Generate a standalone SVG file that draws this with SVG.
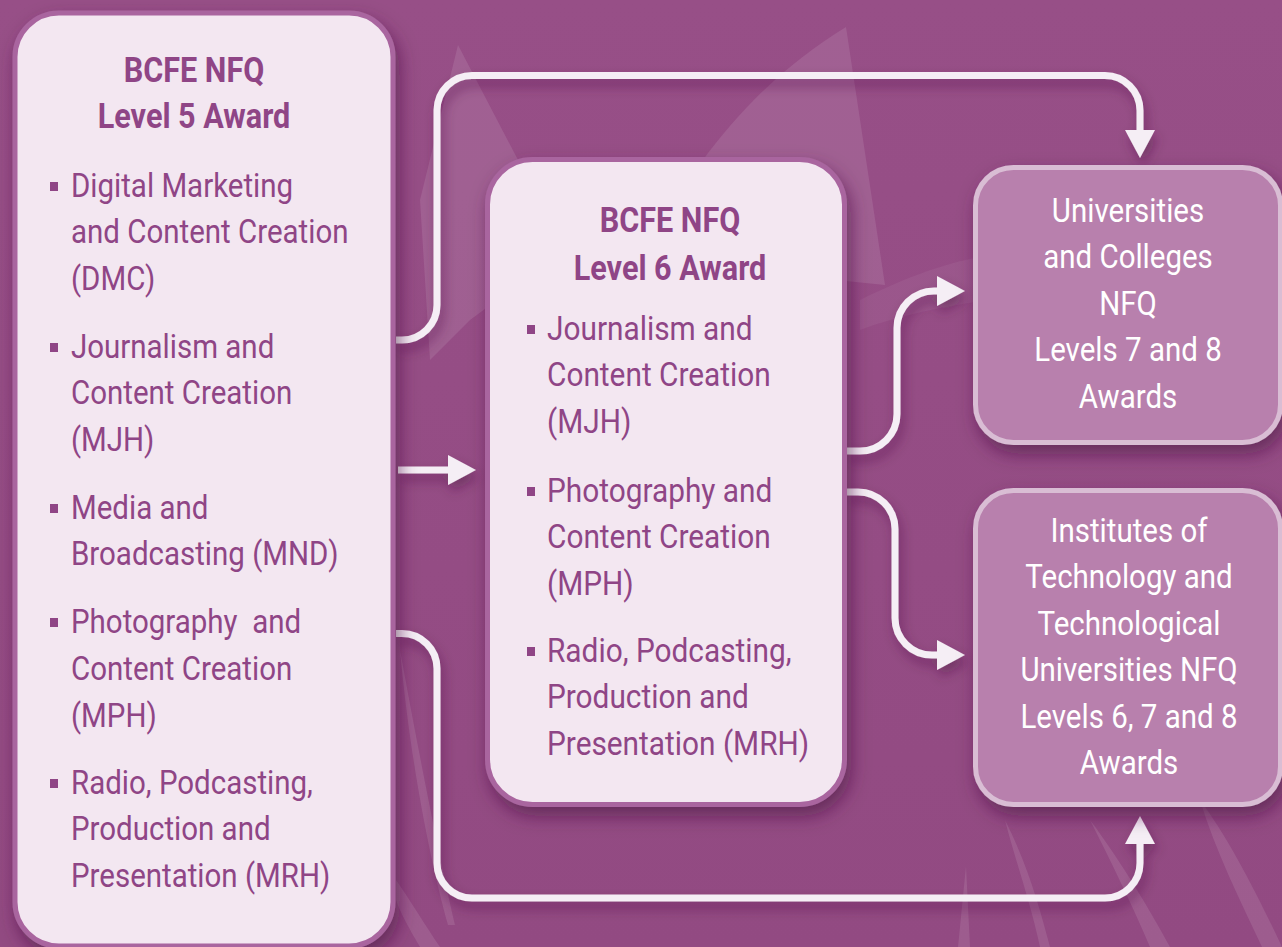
<svg xmlns="http://www.w3.org/2000/svg" width="1282" height="947" viewBox="0 0 1282 947">
<defs>
<filter id="sh" x="-20%" y="-20%" width="140%" height="140%">
<feDropShadow dx="4" dy="9" stdDeviation="9" flood-color="#4a1840" flood-opacity="0.6"/>
</filter>
<filter id="shl" x="-10%" y="-10%" width="120%" height="130%">
<feDropShadow dx="3" dy="7" stdDeviation="6" flood-color="#4a1840" flood-opacity="0.45"/>
</filter>
<linearGradient id="bg" x1="0" y1="0" x2="0" y2="1">
<stop offset="0" stop-color="#974f87"/>
<stop offset="1" stop-color="#924a82"/>
</linearGradient>
<style>
.t{font-family:Roboto,"Liberation Sans",sans-serif;font-size:33.5px;fill:#8f4586}
.h{font-family:Roboto,"Liberation Sans",sans-serif;font-size:36px;font-weight:bold;fill:#8f4586;text-anchor:middle}
.w{font-family:Roboto,"Liberation Sans",sans-serif;font-size:33.5px;fill:#ffffff;text-anchor:middle}
.lb{fill:#f3e7f1;stroke:#a9659f;stroke-width:5}
.rb{fill:#b880ad;stroke:#d9bdd4;stroke-width:5}
.bu{fill:#8f4586}
.c{fill:none;stroke:#f5eef5;stroke-width:7}
.ah{fill:#f5eef5}
.dec{fill:#ffffff;opacity:0.1}
.dec2{fill:#ffffff;opacity:0.05}
</style>
</defs>
<rect width="1282" height="947" fill="url(#bg)"/>
<g id="decor">
<polygon class="dec" points="458,45 565,250 470,320 430,360 420,200"/>
<path class="dec" d="M846,27 C760,80 700,150 640,260 L885,285 Z"/>
<path class="dec2" d="M860,300 C920,270 960,260 990,255 L990,300 C950,305 900,315 860,330 Z"/>
<path class="dec" d="M966,866 L970,947 L958,947 Z"/>
<path class="dec" d="M1005,820 C1030,870 1040,910 1050,947 L1040,947 C1030,900 1015,860 1005,820 Z"/>
<path class="dec" d="M1090,820 C1120,860 1150,910 1170,947 L1150,947 C1130,900 1110,860 1090,820 Z"/>
<path class="dec" d="M1200,800 C1230,840 1260,900 1282,947 L1262,947 C1240,900 1215,850 1200,800 Z"/>
<path class="dec" d="M400,650 C420,760 440,860 455,925 L448,925 C430,860 410,760 400,650 Z"/>
<path class="dec" d="M396,880 C410,900 425,925 440,947 L420,947 C410,930 400,912 396,900 Z"/>
</g>
<g id="connectors" filter="url(#shl)">
<path class="c" d="M396,340 H402 A35,35 0 0 0 437,305 V110 A35,35 0 0 1 472,75.5 H1105 A35,35 0 0 1 1140,110.5 V132"/>
<polygon class="ah" points="1125,130 1155,130 1140,158"/>
<path class="c" d="M398,470 H450"/>
<polygon class="ah" points="448,455 448,485 476,470"/>
<path class="c" d="M847,451 H860 A37,37 0 0 0 897,414 V328 A37,37 0 0 1 934,291 H939"/>
<polygon class="ah" points="937,276 937,306 965,291"/>
<path class="c" d="M847,492 H858 A37,37 0 0 1 895,529 V618 A37,37 0 0 0 932,655 H939"/>
<polygon class="ah" points="937,640 937,670 965,655"/>
<path class="c" d="M396,633.5 H402 A35,35 0 0 1 437,668.5 V863 A35,35 0 0 0 472,898 H1105 A35,35 0 0 0 1140,863 V842"/>
<polygon class="ah" points="1125,844 1155,844 1140,816"/>
</g>
<g id="level5">
<rect class="lb" x="15" y="13" width="378" height="933" rx="44" filter="url(#sh)"/>
<g transform="translate(194,0) scale(0.85,1)">
<text class="h" x="0" y="82">BCFE NFQ</text>
<text class="h" x="0" y="128">Level 5 Award</text>
</g>
<rect class="bu" x="50" y="182" width="8" height="9"/>
<rect class="bu" x="50" y="343" width="8" height="9"/>
<rect class="bu" x="50" y="504" width="8" height="9"/>
<rect class="bu" x="50" y="618" width="8" height="9"/>
<rect class="bu" x="50" y="779" width="8" height="9"/>
<g transform="translate(71,0) scale(0.88,1)">
<text class="t" x="0" y="197">Digital Marketing</text>
<text class="t" x="0" y="243.5">and Content Creation</text>
<text class="t" x="0" y="290">(DMC)</text>
<text class="t" x="0" y="358">Journalism and</text>
<text class="t" x="0" y="404.5">Content Creation</text>
<text class="t" x="0" y="451">(MJH)</text>
<text class="t" x="0" y="519">Media and</text>
<text class="t" x="0" y="565.5">Broadcasting (MND)</text>
<text class="t" x="0" y="633" xml:space="preserve">Photography  and</text>
<text class="t" x="0" y="680">Content Creation</text>
<text class="t" x="0" y="727">(MPH)</text>
<text class="t" x="0" y="794">Radio, Podcasting,</text>
<text class="t" x="0" y="840.5">Production and</text>
<text class="t" x="0" y="887">Presentation (MRH)</text>
</g>
</g>
<g id="level6">
<rect class="lb" x="487.5" y="159.5" width="357" height="645" rx="45" filter="url(#sh)"/>
<g transform="translate(670,0) scale(0.85,1)">
<text class="h" x="0" y="232">BCFE NFQ</text>
<text class="h" x="0" y="280">Level 6 Award</text>
</g>
<rect class="bu" x="527" y="325" width="8" height="9"/>
<rect class="bu" x="527" y="487" width="8" height="9"/>
<rect class="bu" x="527" y="647" width="8" height="9"/>
<g transform="translate(547,0) scale(0.89,1)">
<text class="t" x="0" y="340">Journalism and</text>
<text class="t" x="0" y="386.5">Content Creation</text>
<text class="t" x="0" y="433">(MJH)</text>
<text class="t" x="0" y="502">Photography and</text>
<text class="t" x="0" y="548.5">Content Creation</text>
<text class="t" x="0" y="595">(MPH)</text>
<text class="t" x="0" y="662">Radio, Podcasting,</text>
<text class="t" x="0" y="708.5">Production and</text>
<text class="t" x="0" y="755">Presentation (MRH)</text>
</g>
</g>
<g id="universities">
<rect class="rb" x="975.5" y="167.5" width="305" height="275" rx="38" filter="url(#sh)"/>
<g transform="translate(1128,0) scale(0.88,1)">
<text class="w" x="0" y="222">Universities</text>
<text class="w" x="0" y="268.5">and Colleges</text>
<text class="w" x="0" y="315">NFQ</text>
<text class="w" x="0" y="361.5">Levels 7 and 8</text>
<text class="w" x="0" y="408">Awards</text>
</g>
</g>
<g id="institutes">
<rect class="rb" x="975.5" y="490.5" width="305" height="314" rx="38" filter="url(#sh)"/>
<g transform="translate(1129,0) scale(0.88,1)">
<text class="w" x="0" y="542">Institutes of</text>
<text class="w" x="0" y="588.5">Technology and</text>
<text class="w" x="0" y="635">Technological</text>
<text class="w" x="0" y="681.5">Universities NFQ</text>
<text class="w" x="0" y="728">Levels 6, 7 and 8</text>
<text class="w" x="0" y="774.5">Awards</text>
</g>
</g>
</svg>
